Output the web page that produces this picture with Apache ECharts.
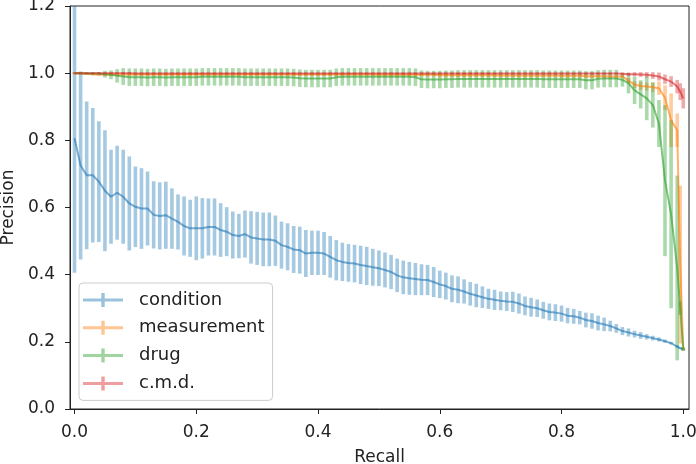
<!DOCTYPE html>
<html>
<head>
<meta charset="utf-8">
<script src="https://cdn.jsdelivr.net/npm/echarts@6/dist/echarts.min.js"></script>
<style>html,body{margin:0;padding:0;background:#fff;}#c{width:696px;height:464px;}</style>
</head>
<body>
<div id="c"></div>
<script>
var seriesNames = ['condition', 'measurement', 'drug', 'c.m.d.'];
var xTicks = [0, 0.2, 0.4, 0.6, 0.8, 1.0];
var yTicks = [0, 0.2, 0.4, 0.6, 0.8, 1.0, 1.2];

var recall = [
 0.00,0.01,0.02,0.03,0.04,0.05,0.06,0.07,0.08,0.09,
 0.10,0.11,0.12,0.13,0.14,0.15,0.16,0.17,0.18,0.19,
 0.20,0.21,0.22,0.23,0.24,0.25,0.26,0.27,0.28,0.29,
 0.30,0.31,0.32,0.33,0.34,0.35,0.36,0.37,0.38,0.39,
 0.40,0.41,0.42,0.43,0.44,0.45,0.46,0.47,0.48,0.49,
 0.50,0.51,0.52,0.53,0.54,0.55,0.56,0.57,0.58,0.59,
 0.60,0.61,0.62,0.63,0.64,0.65,0.66,0.67,0.68,0.69,
 0.70,0.71,0.72,0.73,0.74,0.75,0.76,0.77,0.78,0.79,
 0.80,0.81,0.82,0.83,0.84,0.85,0.86,0.87,0.88,0.89,
 0.90,0.91,0.92,0.93,0.94,0.95,0.96,0.97,0.98,0.99,
 0.995,1.00];

var condMean = [
 0.806,0.725,0.696,0.696,0.677,0.650,0.632,0.644,0.632,0.612,
 0.602,0.597,0.597,0.578,0.575,0.577,0.567,0.557,0.545,0.538,
 0.538,0.538,0.542,0.542,0.533,0.528,0.518,0.515,0.521,0.511,
 0.508,0.505,0.505,0.501,0.488,0.483,0.475,0.473,0.463,0.465,
 0.465,0.463,0.453,0.443,0.438,0.435,0.433,0.429,0.426,0.422,
 0.419,0.414,0.408,0.398,0.392,0.389,0.387,0.385,0.384,0.378,
 0.371,0.366,0.358,0.355,0.350,0.343,0.338,0.333,0.328,0.325,
 0.322,0.320,0.319,0.314,0.307,0.303,0.300,0.294,0.289,0.287,
 0.284,0.278,0.276,0.272,0.265,0.262,0.256,0.252,0.247,0.240,
 0.232,0.228,0.223,0.219,0.215,0.211,0.207,0.202,0.196,0.186,
 0.181,0.178];
var condErr = [
 0.400,0.280,0.220,0.200,0.180,0.180,0.140,0.140,0.140,0.140,
 0.120,0.120,0.110,0.100,0.100,0.100,0.090,0.082,0.088,0.085,
 0.095,0.090,0.085,0.085,0.080,0.073,0.070,0.066,0.070,0.078,
 0.079,0.080,0.080,0.075,0.070,0.070,0.070,0.070,0.070,0.066,
 0.066,0.064,0.062,0.060,0.057,0.056,0.056,0.057,0.057,0.055,
 0.053,0.052,0.051,0.050,0.050,0.049,0.048,0.046,0.045,0.045,
 0.041,0.040,0.040,0.040,0.036,0.035,0.035,0.032,0.030,0.030,
 0.028,0.028,0.030,0.030,0.028,0.028,0.026,0.025,0.025,0.025,
 0.024,0.023,0.022,0.020,0.022,0.023,0.022,0.020,0.016,0.013,
 0.012,0.012,0.010,0.010,0.008,0.007,0.006,0.005,0.004,0.004,
 0.003,0.003];

var measMean = [
 1.000,0.999,0.998,0.997,0.996,0.996,0.996,0.996,0.996,0.996,
 0.996,0.996,0.996,0.996,0.996,0.996,0.996,0.996,0.996,0.996,
 0.996,0.996,0.996,0.996,0.996,0.996,0.996,0.996,0.996,0.996,
 0.996,0.996,0.996,0.996,0.996,0.996,0.996,0.996,0.996,0.996,
 0.996,0.996,0.996,0.996,0.996,0.996,0.996,0.996,0.996,0.996,
 0.995,0.995,0.995,0.995,0.995,0.995,0.995,0.995,0.995,0.995,
 0.994,0.994,0.994,0.994,0.994,0.994,0.994,0.994,0.994,0.994,
 0.993,0.993,0.993,0.993,0.993,0.993,0.993,0.993,0.993,0.993,
 0.992,0.992,0.992,0.992,0.991,0.991,0.991,0.991,0.990,0.990,
 0.990,0.978,0.966,0.962,0.960,0.958,0.955,0.927,0.860,0.830,
 0.430,0.178];
var measErr = [
 0.002,0.002,0.002,0.004,0.004,0.004,0.004,0.004,0.004,0.004,
 0.004,0.004,0.004,0.004,0.004,0.004,0.004,0.004,0.004,0.004,
 0.004,0.004,0.004,0.004,0.004,0.004,0.004,0.004,0.004,0.004,
 0.004,0.004,0.004,0.004,0.004,0.004,0.004,0.004,0.004,0.004,
 0.004,0.004,0.004,0.004,0.004,0.004,0.004,0.004,0.004,0.004,
 0.005,0.005,0.005,0.005,0.005,0.005,0.005,0.005,0.005,0.005,
 0.006,0.006,0.006,0.006,0.006,0.006,0.006,0.006,0.006,0.006,
 0.006,0.006,0.006,0.006,0.006,0.006,0.006,0.006,0.006,0.006,
 0.006,0.006,0.006,0.006,0.006,0.006,0.006,0.006,0.006,0.006,
 0.005,0.008,0.010,0.012,0.012,0.015,0.020,0.037,0.080,0.050,
 0.235,0.005];

var drugMean = [
 1.000,1.000,0.999,0.999,0.999,0.997,0.995,0.992,0.990,0.988,
 0.988,0.988,0.987,0.988,0.988,0.987,0.988,0.988,0.988,0.988,
 0.988,0.989,0.989,0.989,0.989,0.989,0.989,0.989,0.988,0.988,
 0.988,0.988,0.988,0.988,0.988,0.988,0.987,0.985,0.984,0.984,
 0.984,0.984,0.984,0.988,0.989,0.989,0.989,0.989,0.989,0.989,
 0.989,0.989,0.989,0.989,0.989,0.989,0.988,0.982,0.981,0.981,
 0.981,0.982,0.982,0.983,0.983,0.983,0.983,0.983,0.983,0.983,
 0.983,0.983,0.983,0.983,0.983,0.983,0.983,0.982,0.982,0.982,
 0.982,0.982,0.982,0.982,0.979,0.979,0.983,0.984,0.984,0.984,
 0.980,0.970,0.949,0.937,0.925,0.905,0.850,0.680,0.580,0.420,
 0.300,0.178];
var drugErr = [
 0.001,0.001,0.002,0.002,0.003,0.010,0.013,0.020,0.025,0.026,
 0.026,0.026,0.026,0.026,0.026,0.026,0.026,0.026,0.026,0.026,
 0.026,0.026,0.026,0.026,0.026,0.026,0.026,0.026,0.026,0.026,
 0.026,0.026,0.026,0.026,0.026,0.026,0.026,0.026,0.026,0.026,
 0.026,0.026,0.026,0.026,0.026,0.026,0.026,0.026,0.026,0.026,
 0.026,0.026,0.026,0.026,0.026,0.026,0.026,0.026,0.026,0.026,
 0.026,0.026,0.026,0.026,0.026,0.026,0.026,0.026,0.026,0.026,
 0.026,0.026,0.026,0.026,0.026,0.026,0.026,0.026,0.026,0.026,
 0.026,0.026,0.026,0.026,0.027,0.027,0.026,0.026,0.026,0.026,
 0.020,0.030,0.041,0.042,0.065,0.067,0.070,0.225,0.280,0.275,
 0.020,0.005];

var cmdMean = [
 1.000,1.000,1.000,1.000,1.000,1.000,1.000,1.000,1.000,1.000,
 0.999,0.999,0.999,0.999,0.999,0.999,0.999,0.999,0.999,0.999,
 0.999,0.999,0.999,0.999,0.999,0.999,0.999,0.999,0.999,0.999,
 0.999,0.999,0.999,0.999,0.999,0.999,0.999,0.999,0.999,0.999,
 0.999,0.999,0.999,0.999,0.999,0.999,0.999,0.999,0.999,0.999,
 0.999,0.999,0.999,0.999,0.999,0.999,0.999,0.999,0.999,0.999,
 0.999,0.999,0.999,0.999,0.999,0.999,0.999,0.999,0.999,0.999,
 0.999,0.999,0.999,0.999,0.999,0.999,0.999,0.999,0.999,0.999,
 0.999,0.999,0.999,0.999,0.999,0.999,0.999,0.999,0.999,0.999,
 0.998,0.997,0.997,0.996,0.995,0.993,0.990,0.982,0.975,0.960,
 0.945,0.925];
var cmdErr = [
 0.003,0.003,0.003,0.003,0.003,0.003,0.003,0.003,0.003,0.003,
 0.003,0.003,0.003,0.003,0.003,0.003,0.003,0.003,0.003,0.003,
 0.003,0.003,0.003,0.003,0.003,0.003,0.003,0.003,0.003,0.003,
 0.003,0.003,0.003,0.003,0.003,0.003,0.003,0.003,0.003,0.003,
 0.003,0.003,0.003,0.003,0.003,0.003,0.003,0.003,0.003,0.003,
 0.003,0.003,0.003,0.003,0.003,0.003,0.003,0.003,0.003,0.003,
 0.003,0.003,0.003,0.003,0.003,0.003,0.003,0.003,0.003,0.003,
 0.003,0.003,0.003,0.003,0.003,0.003,0.003,0.003,0.003,0.003,
 0.003,0.003,0.003,0.003,0.003,0.003,0.003,0.003,0.003,0.003,
 0.004,0.005,0.006,0.007,0.008,0.010,0.012,0.014,0.016,0.020,
 0.025,0.030];

var colors = ['#1f77b4', '#ff7f0e', '#2ca02c', '#d62728'];
var means = [condMean, measMean, drugMean, cmdMean];
var errs = [condErr, measErr, drugErr, cmdErr];
var FONT = 'DejaVu Sans';
var crossIcon = 'path://M0,5.5H40V8.5H0Z M18.3,0H21.7V14H18.3Z';

function errSeries(idx) {
  var color = colors[idx], m = means[idx], e = errs[idx];
  return {
    type: 'custom',
    name: seriesNames[idx] + ' error',
    silent: true,
    data: recall.map(function (x, i) { return [x, m[i] - e[i], m[i] + e[i]]; }),
    encode: { x: 0, y: [1, 2] },
    renderItem: function (params, api) {
      var x = api.value(0);
      var lo = api.coord([x, api.value(1)]);
      var hi = api.coord([x, api.value(2)]);
      var w = 3.6;
      var cs = params.coordSys;
      var shape = echarts.graphic.clipRectByRect(
        { x: lo[0] - w / 2, y: hi[1], width: w, height: Math.max(lo[1] - hi[1], 1) },
        { x: cs.x, y: cs.y, width: cs.width, height: cs.height });
      if (!shape) return;
      return { type: 'rect', shape: shape, style: { fill: color, opacity: 0.4 } };
    }
  };
}
function lineSeries(idx) {
  var m = means[idx];
  return {
    type: 'line',
    name: seriesNames[idx],
    data: recall.map(function (x, i) { return [x, m[i]]; }),
    showSymbol: false,
    symbol: 'none',
    clip: true,
    silent: true,
    lineStyle: { color: colors[idx], width: 2, opacity: 0.6 },
    itemStyle: { color: colors[idx] }
  };
}

var series = [];
for (var k = 0; k < seriesNames.length; k++) {
  series.push(errSeries(k));
  series.push(lineSeries(k));
}

var chart = echarts.init(document.getElementById('c'), null, { renderer: 'canvas' });
chart.setOption({
  animation: false,
  backgroundColor: '#fff',
  grid: { left: 70, right: 7, top: 6, bottom: 55, containLabel: false, outerBoundsMode: 'none',
    show: true, borderColor: '#222', borderWidth: 1, backgroundColor: 'transparent' },
  xAxis: {
    type: 'value', min: -0.0074, max: 1.0094,
    name: 'Recall', nameLocation: 'middle', nameGap: 40,
    nameTextStyle: { fontFamily: FONT, fontSize: 17, color: '#222' },
    axisLine: { show: true, onZero: false, lineStyle: { color: '#222', width: 1 } },
    axisTick: { show: true, length: 5, customValues: xTicks, lineStyle: { color: '#222' } },
    axisLabel: { customValues: xTicks, margin: 15, fontFamily: FONT, fontSize: 17, color: '#222',
      formatter: function (v) { return v.toFixed(1); } },
    splitLine: { show: false }
  },
  yAxis: {
    type: 'value', min: 0, max: 1.2, interval: 0.2,
    name: 'Precision', nameLocation: 'middle', nameGap: 52,
    nameTextStyle: { fontFamily: FONT, fontSize: 17, color: '#222' },
    axisLine: { show: true, onZero: false, lineStyle: { color: '#222', width: 1 } },
    axisTick: { show: true, length: 5, customValues: yTicks, lineStyle: { color: '#222' } },
    axisLabel: { customValues: yTicks, margin: 15, fontFamily: FONT, fontSize: 17, color: '#222',
      formatter: function (v) { return v.toFixed(1); } },
    splitLine: { show: false }
  },
  legend: {
    orient: 'vertical', left: 79, top: 283,
    itemWidth: 40, itemHeight: 14, itemGap: 9.8,
    padding: [8, 8, 8, 4],
    backgroundColor: 'rgba(255,255,255,0.8)', borderColor: '#ccc', borderWidth: 1, borderRadius: 4,
    selectedMode: false,
    textStyle: { fontFamily: FONT, fontSize: 18, lineHeight: 18, color: '#222', padding: [0, 0, 0, 11] },
    data: seriesNames.map(function (n, i) {
      return { name: n, icon: crossIcon, itemStyle: { color: colors[i], opacity: 0.45 } };
    })
  },
  series: series
});
</script>
</body>
</html>
